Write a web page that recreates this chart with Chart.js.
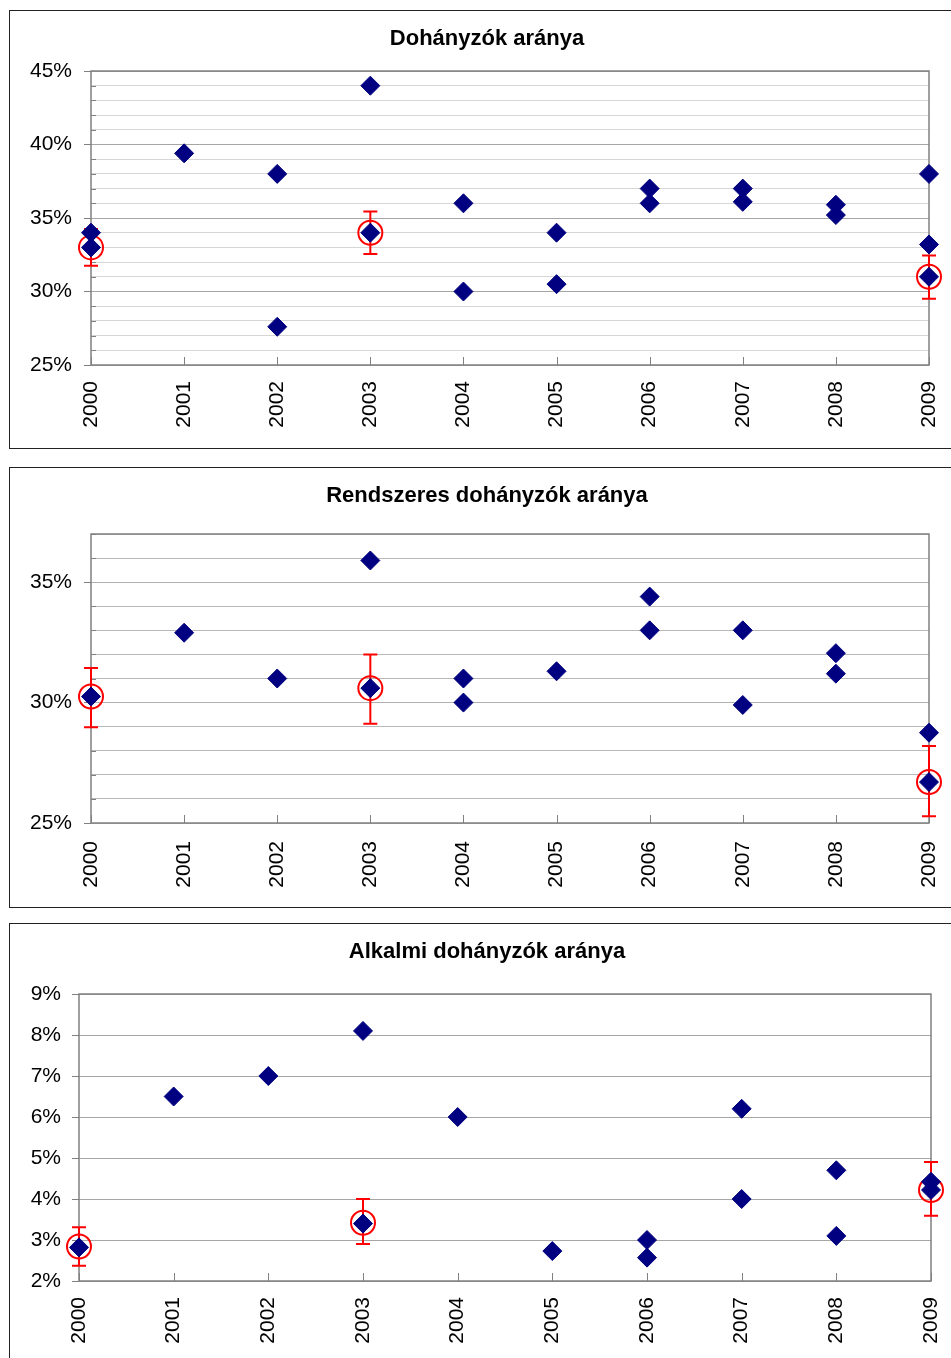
<!DOCTYPE html>
<html><head><meta charset="utf-8">
<script src="https://cdn.jsdelivr.net/npm/chart.js@4.4.1/dist/chart.umd.min.js"></script>
<style>
html,body{margin:0;padding:0;background:#fff;overflow:hidden;width:951px;height:1358px;}
.panel{position:absolute;border:1px solid #222;background:#fff;}
.panel canvas{position:absolute;left:0;top:0;}
</style></head><body>
<div class="panel" style="left:9px;top:10px;width:960px;height:437px"><canvas id="c1" width="954" height="437" style="width:954px;height:437px"></canvas></div>
<div class="panel" style="left:9px;top:467px;width:960px;height:439px"><canvas id="c2" width="954" height="439" style="width:954px;height:439px"></canvas></div>
<div class="panel" style="left:9px;top:923px;width:960px;height:460px"><canvas id="c3" width="954" height="440" style="width:954px;height:440px"></canvas></div>
<script>
// ---- data ----
const p1Title = 'Dohányzók aránya';
const p1Years  = [2000,2000,2001,2002,2002,2003,2003,2004,2004,2005,2005,2006,2006,2007,2007,2008,2008,2009,2009,2009];
const p1Values = [34.0,33.0,39.4,38.0,27.6,44.0,34.0,36.0,30.0,34.0,30.5,37.0,36.0,37.0,36.1,35.9,35.2,38.0,33.2,31.0];
const p1HiYears = [2000,2003,2009];
const p1HiValues = [33.0,34.0,31.0];
const p1HiLow  = [31.75,32.55,29.5];
const p1HiHigh = [34.25,35.45,32.45];

const p2Title = 'Rendszeres dohányzók aránya';
const p2Years  = [2000,2001,2002,2003,2003,2004,2004,2005,2006,2006,2007,2007,2008,2008,2009,2009];
const p2Values = [30.25,32.9,31.0,35.9,30.6,31.0,30.0,31.3,34.4,33.0,33.0,29.9,32.05,31.2,28.75,26.7];
const p2HiYears = [2000,2003,2009];
const p2HiValues = [30.25,30.6,26.7];
const p2HiLow  = [28.98,29.12,25.28];
const p2HiHigh = [31.44,32.0,28.2];

const p3Title = 'Alkalmi dohányzók aránya';
const p3Years  = [2000,2001,2002,2003,2003,2004,2005,2006,2006,2007,2007,2008,2008,2009,2009];
const p3Values = [2.82,6.5,7.0,8.1,3.4,6.0,2.73,3.0,2.57,6.2,4.0,4.7,3.1,4.42,4.22];
const p3HiYears = [2000,2003,2009];
const p3HiValues = [2.84,3.42,4.22];
const p3HiLow  = [2.37,2.9,3.59];
const p3HiHigh = [3.31,4.0,4.9];

const FONT = '"Liberation Sans", Arial, Helvetica, sans-serif';

function makeDeco(d) {
  return {
    id: 'deco',
    beforeDatasetsDraw(chart) {
      const ctx = chart.ctx, a = chart.chartArea, x = chart.scales.x, y = chart.scales.y;
      ctx.save();
      ctx.strokeStyle = '#808080';
      ctx.lineWidth = 1.5;
      ctx.strokeRect(a.left, a.top, a.right - a.left, a.bottom - a.top);
      ctx.lineWidth = 1;
      ctx.beginPath();
      x.ticks.forEach(t => {
        const px = Math.round(x.getPixelForValue(t.value)) + 0.5;
        ctx.moveTo(px, a.bottom); ctx.lineTo(px, a.bottom - 8);
      });
      y.ticks.forEach(t => {
        if (Math.round(t.value) % d.every !== 0) {
          const py = Math.round(y.getPixelForValue(t.value)) + 0.5;
          ctx.moveTo(a.left, py); ctx.lineTo(a.left + 5, py);
        }
      });
      ctx.stroke();
      ctx.strokeStyle = '#ff0000';
      ctx.lineWidth = 2;
      ctx.beginPath();
      d.hiX.forEach((xv, i) => {
        const px = x.getPixelForValue(xv);
        const pl = y.getPixelForValue(d.low[i]);
        const ph = y.getPixelForValue(d.high[i]);
        ctx.moveTo(px, pl); ctx.lineTo(px, ph);
        ctx.moveTo(px - 7, pl); ctx.lineTo(px + 7, pl);
        ctx.moveTo(px - 7, ph); ctx.lineTo(px + 7, ph);
      });
      ctx.stroke();
      ctx.restore();
    }
  };
}

function makePanel(id, c) {
  const pts = c.years.map((yr, i) => ({x: yr, y: c.values[i]}));
  const hi = c.hiYears.map((yr, i) => ({x: yr, y: c.hiValues[i]}));
  new Chart(document.getElementById(id), {
    type: 'scatter',
    data: {
      datasets: [
        { data: pts, pointStyle: 'rectRot', pointRadius: 9.5, pointHoverRadius: 9.5,
          backgroundColor: '#000080', borderColor: '#000080', borderWidth: 1, clip: false },
        { data: hi, pointStyle: 'circle', pointRadius: 12, pointHoverRadius: 12,
          backgroundColor: 'rgba(0,0,0,0)', borderColor: '#ff0000', borderWidth: 2, clip: false }
      ]
    },
    options: {
      responsive: false, animation: false, events: [],
      devicePixelRatio: 1,
      layout: { padding: 0 },
      plugins: {
        legend: { display: false }, tooltip: { enabled: false },
        title: { display: true, text: c.title, color: '#000',
          font: { size: 22, weight: 'bold', family: FONT, lineHeight: 1.2 },
          padding: { top: c.g.tTop, bottom: c.g.tBot } }
      },
      scales: {
        x: {
          type: 'linear', min: 2000, max: 2009,
          afterFit: s => { s.height = c.g.xH; s.paddingLeft = 0; s.paddingRight = 0; },
          ticks: { stepSize: 1, autoSkip: false, maxRotation: 90, minRotation: 90, padding: c.g.xPad,
            color: '#000', font: { size: 21, family: FONT }, callback: v => String(v) },
          grid: { display: false, drawTicks: false },
          border: { display: false }
        },
        y: {
          min: c.yMin, max: c.yMax,
          afterFit: s => { s.width = c.g.yW; s.paddingTop = 0; s.paddingBottom = 0; },
          ticks: { stepSize: 1, autoSkip: false, padding: c.g.yPad, color: '#000',
            font: { size: 21, family: FONT },
            callback: v => (Math.round(v) % c.every === 0 ? Math.round(v) + '%' : '') },
          grid: {
            lineWidth: 1, tickLength: 7, drawTicks: true,
            color: ctx => (ctx.tick && Math.round(ctx.tick.value) % c.every === 0) ? c.majorColor : c.minorColor,
            tickColor: ctx => (ctx.tick && Math.round(ctx.tick.value) % c.every === 0) ? '#808080' : 'rgba(0,0,0,0)'
          },
          border: { display: false }
        },
        yR: {
          position: 'right', display: true,
          afterFit: s => { s.width = c.g.rW; s.paddingTop = 0; s.paddingBottom = 0; },
          ticks: { display: false }, grid: { display: false, drawTicks: false }, border: { display: false }
        }
      }
    },
    plugins: [makeDeco({ every: c.every, hiX: c.hiYears, low: c.hiLow, high: c.hiHigh })]
  });
}

makePanel('c1', { title: p1Title, years: p1Years, values: p1Values, hiYears: p1HiYears, hiValues: p1HiValues,
  hiLow: p1HiLow, hiHigh: p1HiHigh, yMin: 25, yMax: 45, every: 5, majorColor: '#a6a6a6', minorColor: '#d6d6d6',
  g: { yW: 81, rW: 35, xH: 83, tTop: 14.5, tBot: 19.1, yPad: 12, xPad: 16 } });
makePanel('c2', { title: p2Title, years: p2Years, values: p2Values, hiYears: p2HiYears, hiValues: p2HiValues,
  hiLow: p2HiLow, hiHigh: p2HiHigh, yMin: 25, yMax: 37, every: 5, majorColor: '#b0b0b0', minorColor: '#b8b8b8',
  g: { yW: 81, rW: 35, xH: 84, tTop: 14.6, tBot: 25, yPad: 12, xPad: 18 } });
makePanel('c3', { title: p3Title, years: p3Years, values: p3Values, hiYears: p3HiYears, hiValues: p3HiValues,
  hiLow: p3HiLow, hiHigh: p3HiHigh, yMin: 2, yMax: 9, every: 1, majorColor: '#a6a6a6', minorColor: '#a6a6a6',
  g: { yW: 69, rW: 33, xH: 83, tTop: 14.5, tBot: 29.1, yPad: 11, xPad: 16 } });
</script>
</body></html>
